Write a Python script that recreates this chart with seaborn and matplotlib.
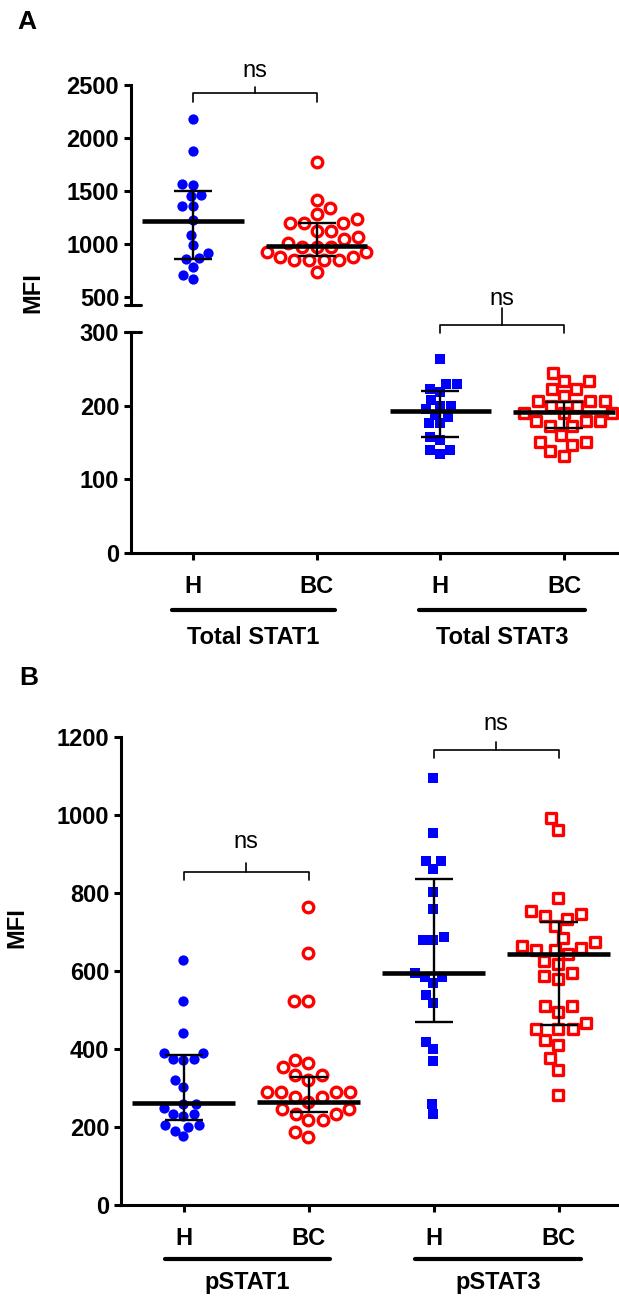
import numpy as np
import pandas as pd
import matplotlib
matplotlib.use("Agg")
import matplotlib.pyplot as plt
import matplotlib.transforms as mtransforms
import seaborn as sns

# ---- data ----
groups_A = ["STAT1_H", "STAT1_BC", "STAT3_H", "STAT3_BC"]
groups_B = ["pSTAT1_H", "pSTAT1_BC", "pSTAT3_H", "pSTAT3_BC"]
tick_labels = ["H", "BC", "H", "BC"]

stat1_H = [2176, 1875, 1566, 1560, 1455, 1460, 1363, 1360, 1228, 1085, 990, 918, 864, 858, 785, 706, 668]
stat1_BC = [1771, 1417, 1344, 1284, 1234, 1196, 1196, 1196, 1123, 1123, 1063, 1044, 1013, 975, 975, 975,
            927, 927, 880, 880, 848, 848, 848, 848, 738]
stat3_H = [264, 230, 230, 223, 218, 208, 200, 200, 195, 188, 185, 176, 176, 158, 154, 140, 140, 135]
stat3_BC = [245, 233, 233, 223, 223, 213, 206, 206, 206, 199, 199, 190, 190, 190, 179, 179, 179, 172, 172,
            160, 151, 151, 147, 138, 131]

pstat1_H = [627, 524, 442, 390, 390, 374, 374, 372, 320, 303, 260, 260, 249, 234, 234, 228, 204, 204, 200, 191, 176]
pstat1_BC = [765, 645, 522, 522, 373, 363, 353, 333, 333, 320, 290, 290, 290, 290, 277, 277, 264, 247, 247,
             234, 234, 217, 217, 187, 174]
pstat3_H = [1096, 955, 882, 882, 862, 803, 760, 679, 679, 688, 596, 585, 585, 570, 539, 519, 419, 401, 369, 260, 234]
pstat3_BC = [993, 962, 786, 754, 745, 741, 733, 715, 685, 674, 664, 660, 655, 655, 643, 626, 617, 596, 587, 580,
             509, 509, 496, 466, 451, 451, 451, 423, 410, 376, 347, 283]

# median with interquartile range as drawn
median_A = [1221, 984, 193, 191]
q1_A = [858, 886, 157, 170]
q3_A = [1502, 1196, 220, 205]
median_B = [262, 264, 596, 643]
q1_B = [217, 239, 470, 462]
q3_B = [384, 327, 835, 726]

dfA = pd.DataFrame({"group": np.repeat(groups_A, [len(stat1_H), len(stat1_BC), len(stat3_H), len(stat3_BC)]),
                    "MFI": np.concatenate([stat1_H, stat1_BC, stat3_H, stat3_BC])})
dfB = pd.DataFrame({"group": np.repeat(groups_B, [len(pstat1_H), len(pstat1_BC), len(pstat3_H), len(pstat3_BC)]),
                    "MFI": np.concatenate([pstat1_H, pstat1_BC, pstat3_H, pstat3_BC])})

sns.set_style("ticks")
plt.rcParams["font.family"] = ["Liberation Sans", "DejaVu Sans"]
plt.rcParams["font.weight"] = "bold"
plt.rcParams["axes.linewidth"] = 2.2
for k in ["text.color", "axes.labelcolor", "xtick.color", "ytick.color", "axes.edgecolor"]:
    plt.rcParams[k] = "black"

W, H = 619, 1298
fig = plt.figure(figsize=(W / 100, H / 100), dpi=100)


def px_axes(left, top, right, bottom):
    return fig.add_axes([left / W, 1 - bottom / H, (right - left) / W, (bottom - top) / H])


def swarm(ax, df, key, order, marker, color, hollow):
    sub = df[df["group"] == key]
    if hollow:
        sns.swarmplot(data=sub, x="group", y="MFI", order=order, ax=ax, marker=marker,
                      color="white", edgecolor=color, linewidth=2.4, size=7.6)
    else:
        sns.swarmplot(data=sub, x="group", y="MFI", order=order, ax=ax, marker=marker,
                      color=color, linewidth=0, size=7.4)


def summary(ax, i, med, lo, hi):
    ax.hlines(med, i - 0.41, i + 0.41, color="black", lw=3.3, zorder=6)
    ax.errorbar(i, med, yerr=[[med - lo], [hi - med]], fmt="none", ecolor="black",
                elinewidth=1.7, capsize=14, capthick=1.7, zorder=6)


def bracket(ax, x0, x1, y_end, y_bar, y_top, y_text):
    xm = (x0 + x1) / 2
    ax.plot([x0, x0, x1, x1], [y_end, y_bar, y_bar, y_end], color="black", lw=1.2, clip_on=False)
    ax.plot([xm, xm], [y_bar, y_top], color="black", lw=1.2, clip_on=False)
    ax.text(xm, y_text, "ns", ha="center", va="baseline", fontsize=17, fontweight="normal", clip_on=False)


def style_axis(ax):
    ax.set_xlabel("")
    ax.set_ylabel("")
    ax.tick_params(axis="both", length=5, width=2.2, labelsize=17, direction="out", colors="black")
    ax.tick_params(axis="x", pad=11)
    sns.despine(ax=ax)


# ---------------- panel A (broken axis) ----------------
axA_top = px_axes(131, 85, 619, 305)
axA_bot = px_axes(131, 332, 619, 553)

swarm(axA_top, dfA, "STAT1_H", groups_A, "o", "#0000FF", False)
swarm(axA_top, dfA, "STAT1_BC", groups_A, "o", "#FF0000", True)
swarm(axA_bot, dfA, "STAT3_H", groups_A, "s", "#0000FF", False)
swarm(axA_bot, dfA, "STAT3_BC", groups_A, "s", "#FF0000", True)

for i in range(2):
    summary(axA_top, i, median_A[i], q1_A[i], q3_A[i])
for i in range(2, 4):
    summary(axA_bot, i, median_A[i], q1_A[i], q3_A[i])

for ax in (axA_top, axA_bot):
    style_axis(ax)
    ax.set_xlim(-0.5, -0.5 + (619 - 131) / 123.7)

axA_top.set_ylim(425, 2500)
axA_top.set_yticks([500, 1000, 1500, 2000, 2500])
axA_top.spines["bottom"].set_visible(False)
axA_top.tick_params(axis="x", bottom=False, labelbottom=False)
axA_bot.set_ylim(0, 300)
axA_bot.set_yticks([0, 100, 200, 300])
axA_bot.set_xticks(range(4))
axA_bot.set_xticklabels(tick_labels)

# break marks across the y axis
axA_top.plot([-0.012, 0.02], [0, 0], transform=axA_top.transAxes, color="black", lw=2.2, clip_on=False)
axA_bot.plot([-0.012, 0.02], [1, 1], transform=axA_bot.transAxes, color="black", lw=2.2, clip_on=False)

bracket(axA_top, 0, 1, 2340, 2425, 2481, 2575)
bracket(axA_bot, 2, 3, 299, 310, 333, 337)

# ---------------- panel B ----------------
axB = px_axes(121, 737, 619, 1205)
swarm(axB, dfB, "pSTAT1_H", groups_B, "o", "#0000FF", False)
swarm(axB, dfB, "pSTAT1_BC", groups_B, "o", "#FF0000", True)
swarm(axB, dfB, "pSTAT3_H", groups_B, "s", "#0000FF", False)
swarm(axB, dfB, "pSTAT3_BC", groups_B, "s", "#FF0000", True)
for i in range(4):
    summary(axB, i, median_B[i], q1_B[i], q3_B[i])
style_axis(axB)
axB.set_xlim(-0.5, -0.5 + (619 - 121) / 125)
axB.set_ylim(0, 1200)
axB.set_yticks(range(0, 1201, 200))
axB.set_xticks(range(4))
axB.set_xticklabels(tick_labels)

bracket(axB, 0, 1, 833, 854, 877, 915)
bracket(axB, 2, 3, 1146, 1167, 1187, 1218)

# ---------------- group labels and underlines ----------------
def group_label(ax, x0, x1, y_line, y_text, text):
    tr = mtransforms.blended_transform_factory(ax.transData, fig.transFigure)
    ax.plot([x0, x1], [1 - y_line / H, 1 - y_line / H], transform=tr, color="black", lw=3, clip_on=False)
    ax.text((x0 + x1) / 2, 1 - y_text / H, text, transform=tr, ha="center", va="center", fontsize=17)


group_label(axA_bot, -0.17, 1.15, 610, 637, "Total STAT1")
group_label(axA_bot, 1.83, 3.17, 610, 637, "Total STAT3")
group_label(axB, -0.15, 1.17, 1259, 1283, "pSTAT1")
group_label(axB, 1.85, 3.18, 1259, 1283, "pSTAT3")

fig.text(33 / W, 1 - 293 / H, "MFI", rotation=90, ha="center", va="center", fontsize=17)
fig.text(17 / W, 1 - 928 / H, "MFI", rotation=90, ha="center", va="center", fontsize=17)
fig.text(27 / W, 1 - 22 / H, "A", ha="center", va="center", fontsize=19)
fig.text(29 / W, 1 - 678 / H, "B", ha="center", va="center", fontsize=19)

fig.savefig("out.png", dpi=100)
